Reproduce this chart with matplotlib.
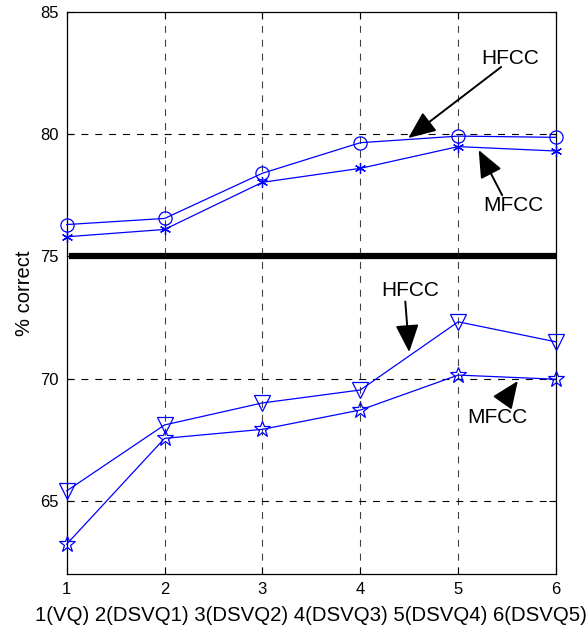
import matplotlib.pyplot as plt

plt.rcParams['font.family'] = ['Liberation Sans', 'DejaVu Sans']
plt.rcParams['lines.scale_dashes'] = False

# data
x = [1, 2, 3, 4, 5, 6]
hfcc_top = [76.3, 76.55, 78.4, 79.65, 79.92, 79.87]
mfcc_top = [75.8, 76.1, 78.03, 78.6, 79.49, 79.31]
hfcc_bot = [65.4, 68.1, 69.0, 69.53, 72.32, 71.5]
mfcc_bot = [63.22, 67.55, 67.92, 68.71, 70.14, 69.97]
divider = 75
xlabel = '1(VQ) 2(DSVQ1) 3(DSVQ2) 4(DSVQ3) 5(DSVQ4) 6(DSVQ5)'

fig = plt.figure(figsize=(5.88, 6.3), dpi=100)
ax = fig.add_axes([0.1134, 0.0889, 0.8322, 0.8921])

blue = (0, 0, 1)
kw = dict(color=blue, lw=0.9, mec=blue, mew=0.9, clip_on=False, zorder=3)
ax.plot(x, hfcc_top, marker='o', ms=9.5, mfc='none', **kw)
ax.plot(x, mfcc_top, marker=(6, 2, 0), ms=8, **kw)
ax.plot(x, hfcc_bot, marker='v', ms=11, mfc='none', **kw)
ax.plot(x, mfcc_bot, marker='*', ms=12, mfc='none', **kw)

# thick separator between the two groups
ax.axhline(divider, xmin=0.01, xmax=1.0, color='black', lw=4.5, zorder=1)

ax.set_xlim(1, 6)
ax.set_ylim(62, 85)
ax.set_xticks(x)
ax.set_yticks([65, 70, 75, 80, 85])
ax.tick_params(direction='in', length=5, labelsize=12, top=True, right=True,
               width=0.8, pad=6)

# dashed grid (skip the 75 line, hidden by the separator)
for xv in x[1:-1]:
    ax.axvline(xv, color='black', lw=0.8, dashes=(5, 5), zorder=0, alpha=0.75)
for yv in [65, 70, 80]:
    ax.axhline(yv, color='black', lw=0.8, dashes=(5, 5), zorder=0)

for s in ax.spines.values():
    s.set_linewidth(0.9)

ax.set_xlabel(xlabel, fontsize=14.7, labelpad=6)
ax.set_ylabel('% correct', fontsize=14.5, labelpad=4)

arrow = dict(arrowstyle='-|>,head_length=1.3,head_width=0.55', color='black', lw=1.4,
             shrinkA=0, shrinkB=0, mutation_scale=13)
ax.annotate('', xy=(4.49, 79.84), xytext=(5.44, 82.75), arrowprops=arrow)
ax.text(5.53, 83.1, 'HFCC', fontsize=15, ha='center', va='center')
ax.annotate('', xy=(5.21, 79.35), xytext=(5.45, 77.5), arrowprops=arrow)
ax.text(5.56, 77.1, 'MFCC', fontsize=15, ha='center', va='center')
ax.annotate('', xy=(4.50, 71.08), xytext=(4.46, 73.15), arrowprops=arrow)
ax.text(4.51, 73.6, 'HFCC', fontsize=15, ha='center', va='center')
ax.annotate('', xy=(5.61, 69.9), xytext=(5.46, 69.05), arrowprops=arrow)
ax.text(5.40, 68.42, 'MFCC', fontsize=15, ha='center', va='center')

fig.savefig('out.png', dpi=100)
